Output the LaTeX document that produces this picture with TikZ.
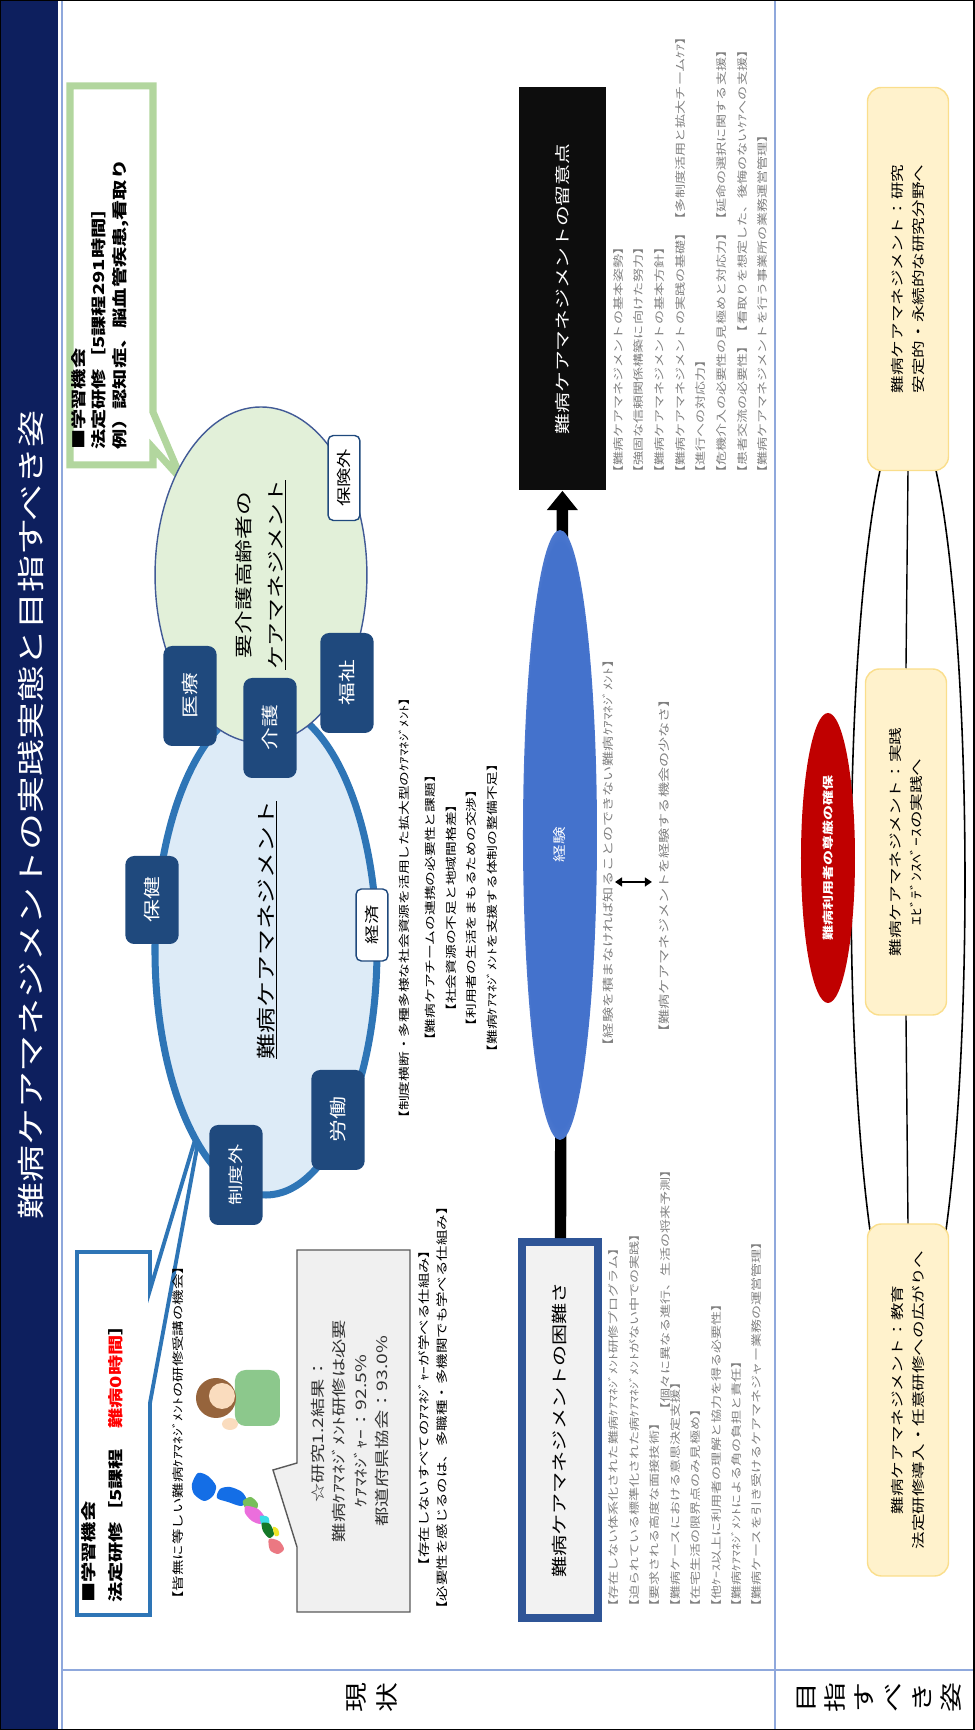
\documentclass[tikz,border=0pt]{standalone}
\usepackage{fontspec}
\setmainfont{Noto Sans CJK JP}
\setsansfont{Noto Sans CJK JP}
\usetikzlibrary{shapes.geometric,arrows.meta}
\definecolor{bandnavy}{RGB}{13,31,94}
\definecolor{tableline}{RGB}{143,168,220}
\definecolor{boxnavy}{RGB}{31,73,125}
\definecolor{ringblue}{RGB}{46,117,182}
\definecolor{ringfill}{RGB}{221,235,247}
\definecolor{greenfill}{RGB}{226,240,217}
\definecolor{greenedge}{RGB}{65,90,150}
\definecolor{calloutgreen}{RGB}{178,214,158}
\definecolor{diffedge}{RGB}{47,85,151}
\definecolor{notegray}{RGB}{128,128,128}
\definecolor{goalfill}{RGB}{255,242,204}
\definecolor{goaledge}{RGB}{250,222,140}
\definecolor{dignityred}{RGB}{192,0,0}
\definecolor{expblue}{RGB}{68,114,204}
\definecolor{mapblue}{RGB}{20,110,230}
\definecolor{mapgreen}{RGB}{120,190,90}
\definecolor{mappink}{RGB}{235,110,220}
\definecolor{mapcyan}{RGB}{60,220,230}
\definecolor{mapdark}{RGB}{20,120,40}
\definecolor{mapyellow}{RGB}{240,230,40}
\definecolor{mapred}{RGB}{235,120,130}
\definecolor{shirtgreen}{RGB}{140,200,140}
\definecolor{hairbrown}{RGB}{150,100,60}
\definecolor{skin}{RGB}{250,220,190}
\pgfdeclareradialshading{expglow}{\pgfpoint{0bp}{0bp}}{color(0bp)=(expblue); color(24bp)=(expblue); color(50bp)=(white)}
\begin{document}
\begin{tikzpicture}[x=0.2mm,y=0.26667mm,rotate=90,yscale=0.75,transform shape,
        every node/.style={inner sep=0pt},
        navybox/.style={fill=boxnavy,text=white,rounded corners=5pt,minimum width=20mm,minimum height=14.2mm,font=\fontsize{13}{15}\selectfont},
        plainbox/.style={fill=white,draw=boxnavy,line width=0.8pt,rounded corners=3pt,minimum height=8.5mm,font=\fontsize{11}{13}\selectfont},
        grayline/.style={anchor=west,text=notegray,font=\fontsize{8}{10}\selectfont},
        goalbox/.style={fill=goalfill,draw=goaledge,line width=0.8pt,rounded corners=8pt,align=center,minimum height=21.6mm,font=\fontsize{10}{16}\selectfont},
        sepline/.style={tableline,line width=0.8pt}]
    \useasboundingbox (0,0) rectangle (1730,974);
    \fill[bandnavy] (0,916) rectangle (1730,974);
    \node[text=white,font=\fontsize{21}{25}\selectfont] (title) at (915,943) {難病ケアマネジメントの実践実態と目指すべき姿};
    \draw[sepline] (0,912) -- (1730,912);
    \draw[sepline] (60,0) -- (60,912);
    \draw[sepline] (0,199) -- (1730,199);
    \draw[line width=1pt] (0,0) rectangle (1730,974);
    \node[align=center,font=\fontsize{17}{24}\selectfont] (now) at (32,602) {現\\状};
    \node[align=center,font=\fontsize{17}{22}\selectfont] (goal) at (32,95) {目\\指\\す\\べ\\き\\姿};

    \draw[calloutgreen,line width=4pt,fill=white,miter limit=3] (1265,821) -- (1282,821) -- (1250,792) -- (1318,821) -- (1644,821) -- (1644,904) -- (1265,904) -- cycle;
    \node[anchor=north west,align=left,font=\bfseries\fontsize{11.5}{15.5}\selectfont] (learnB) at (1280,903) {■学習機会\\法定研修［5課程291時間］\\例）認知症、脳血管疾患,看取り};
    \draw[ringblue,line width=2.2pt,fill=white] (115,824) -- (327,824) -- (620,770) -- (440,824) -- (478,824) -- (478,897) -- (115,897) -- cycle;
    \node[anchor=north west,align=left,font=\bfseries\fontsize{11.5}{21}\selectfont] (learnA) at (127,893) {■学習機会\\法定研修［5課程　\textcolor{red}{難病0時間}］};
    \node[anchor=west,font=\fontsize{8.8}{10}\selectfont] (rare) at (123,796) {【皆無に等しい難病ｹｱﾏﾈｼﾞﾒﾝﾄの研修受講の機会】};

    \node[ellipse,draw=ringblue,line width=4pt,fill=ringfill,minimum width=98mm,minimum height=59.2mm] (intract) at (780,708) {};
    \node[font=\fontsize{14.7}{16}\selectfont] (intractname) at (800,707) {\underline{難病ケアマネジメント}};
    \node[ellipse,draw=greenedge,line width=0.8pt,fill=greenfill,minimum width=67.2mm,minimum height=56.5mm,align=center,font=\fontsize{13.5}{24}\selectfont] (elderly) at (1155,713) {要介護高齢者の\\\underline{ケアマネジメント}};
    \node[navybox,minimum width=17.6mm] (hoken) at (830,822) {保健};
    \node[navybox] (iryo) at (1034,784) {医療};
    \node[navybox] (kaigo) at (1002,704) {介護};
    \node[navybox] (fukushi) at (1047,627) {福祉};
    \node[navybox] (rodo) at (610,636) {労働};
    \node[navybox,font=\fontsize{11.5}{13}\selectfont] (seidogai) at (555,738) {制度外};
    \node[plainbox,minimum width=14.4mm] (keizai) at (805,602) {経済};
    \node[plainbox,minimum width=17mm] (hokengai) at (1252,630) {保険外};
    \node[align=center,font=\fontsize{8.4}{15.5}\selectfont] (issues) at (822,526) {【制度横断・多種多様な社会資源を活用した拡大型のｹｱﾏﾈｼﾞﾒﾝﾄ】\\[4.5pt]【難病ケアチームの連携の必要性と課題】\\【社会資源の不足と地域間格差】\\【利用者の生活をまもるための交渉】\\【難病ｹｱﾏﾈｼﾞﾒﾝﾄを支援する体制の整備不足】};

    \fill[mapblue] plot[smooth cycle] coordinates {(229,770) (236,780) (246,782) (257,776) (254,766) (244,758) (234,761)};
    \fill[mapblue] plot[smooth cycle] coordinates {(232,757) (241,754) (243,744) (238,732) (229,727) (224,733) (228,746)};
    \fill[mapgreen] plot[smooth cycle] coordinates {(229,731) (233,723) (226,716) (219,719) (221,728)};
    \fill[mappink] plot[smooth cycle] coordinates {(224,728) (221,716) (212,709) (206,713) (209,722) (217,729)};
    \fill[mapcyan] plot[smooth cycle] coordinates {(214,714) (213,706) (206,705) (205,712)};
    \fill[mapdark] plot[smooth cycle] coordinates {(207,712) (206,704) (196,700) (192,705) (199,711)};
    \fill[mapyellow] plot[smooth cycle] coordinates {(203,701) (201,696) (195,695) (194,699)};
    \fill[mapred] plot[smooth cycle] coordinates {(191,705) (189,695) (181,690) (176,696) (180,704)};
    \fill[shirtgreen,rounded corners=6pt] (304,694) rectangle (360,739);
    \fill[hairbrown] (332,758) ellipse [x radius=20,y radius=20];
    \fill[skin] (334,752) ellipse [x radius=13,y radius=13];
    \fill[skin] (306,744) ellipse [x radius=6,y radius=8];

    \draw[fill=black!6,draw=black!65,line width=0.8pt] (118,564) -- (480,564) -- (480,677) -- (267,677) -- (260,701) -- (183,677) -- (118,677) -- cycle;
    \node[align=center,text=black!80,font=\fontsize{11}{16}\selectfont] (result) at (299,624) {☆研究1.2結果：\\難病ｹｱﾏﾈｼﾞﾒﾝﾄ研修は必要\\ｹｱﾏﾈｼﾞｬｰ：92.5\%\\都道府県協会：93.0\%};
    \node[align=center,font=\fontsize{8.8}{13.5}\selectfont] (mustlearn) at (322,541) {【存在しないすべてのｱﾏﾈｼﾞｬｰが学べる仕組み】\\【必要性を感じるのは、多職種・多機関でも学べる仕組み】};

    \node[draw=diffedge,line width=4.5pt,fill=black!5,minimum width=75.2mm,minimum height=20.5mm,font=\fontsize{12}{14}\selectfont] (hard) at (300,414) {難病ケアマネジメントの困難さ};
    \foreach \t [count=\i] in {【存在しない体系化された難病ｹｱﾏﾈｼﾞﾒﾝﾄ研修プログラム】,【迫られている標準化された病ｹｱﾏﾈｼﾞﾒﾝﾄがない中での実践】,【要求される高度な面接技術】,【難病ケースにおける意思決定支援】,【在宅生活の限界点のみ見極め】,【他ｹｰｽ以上に利用者の理解と協力を得る必要性】,【難病ｹｱﾏﾈｼﾞﾒﾝﾄによる角の負担と責任】,【難病ケースを引き受けるケアマネジャー業務の運営管理】}
        \node[grayline] (hard\i) at (116,381-20.5*\i) {\t};
    \node[grayline] (hardx) at (313,309) {【個々に異なる進行、生活の将来予測】};

    \node[fill=black!95,minimum width=80.6mm,minimum height=23.2mm,text=white,font=\fontsize{11.8}{13}\selectfont] (notes) at (1441,411) {難病ケアマネジメントの留意点};
    \foreach \t [count=\i] in {【難病ケアマネジメントの基本姿勢】,【強固な信頼関係構築に向けた努力】,【難病ケアマネジメントの基本方針】,【難病ケアマネジメントの実践の基礎】【多制度活用と拡大チームｹｱ】,【進行への対応力】,【危機介入の必要性の見極めと対応力】【延命の選択に関する支援】,【患者交流の必要性】【看取りを想定した、後悔のないｹｱへの支援】,【難病ケアマネジメントを行う事業所の業務運営管理】}
        \node[grayline] (note\i) at (1250,376.7-20.7*\i) {\t};

    \draw[line width=6.5pt,-{Triangle[length=11pt,width=17pt]}] (hard) -- (notes);
    \shade[shading=expglow] (895,414) ellipse [x radius=305,y radius=37];
    \node[text=white,font=\fontsize{10}{12}\selectfont] (exp) at (885,414) {経験};
    \node[text=notegray,font=\fontsize{8.6}{10}\selectfont] (know) at (877,366) {【経験を積まなければ知ることのできない難病ｹｱﾏﾈｼﾞﾒﾝﾄ】};
    \node[text=notegray,font=\fontsize{8.6}{10}\selectfont] (chance) at (864,310) {【難病ケアマネジメントを経験する機会の少なさ】};
    \coordinate (up) at (848,359);
    \coordinate (dn) at (848,322);
    \draw[line width=1pt,{Triangle[length=4pt,width=5pt]}-{Triangle[length=4pt,width=5pt]}] (up) -- (dn);

    \draw[line width=0.9pt] (850,66) ellipse [x radius=470,y radius=57];
    \node[ellipse,fill=dignityred,minimum width=58mm,minimum height=14.4mm,text=white,font=\bfseries\fontsize{8.5}{10}\selectfont] (dignity) at (872,146) {難病利用者の尊厳の確保};
    \node[goalbox,minimum width=70.4mm] (edu) at (330,66) {難病ケアマネジメント：教育\\法定研修導入・任意研修への広がりへ};
    \node[goalbox,minimum width=69.2mm] (prac) at (888,68) {難病ケアマネジメント：実践\\ｴﾋﾞﾃﾞﾝｽﾍﾞｰｽの実践へ};
    \node[goalbox,minimum width=76.6mm] (res) at (1451,66) {難病ケアマネジメント：研究\\安定的・永続的な研究分野へ};
    \draw[line width=0.8pt] (edu.east) -- (prac.west);
    \draw[line width=0.8pt] (prac.east) -- (res.west);
\end{tikzpicture}
\end{document}
